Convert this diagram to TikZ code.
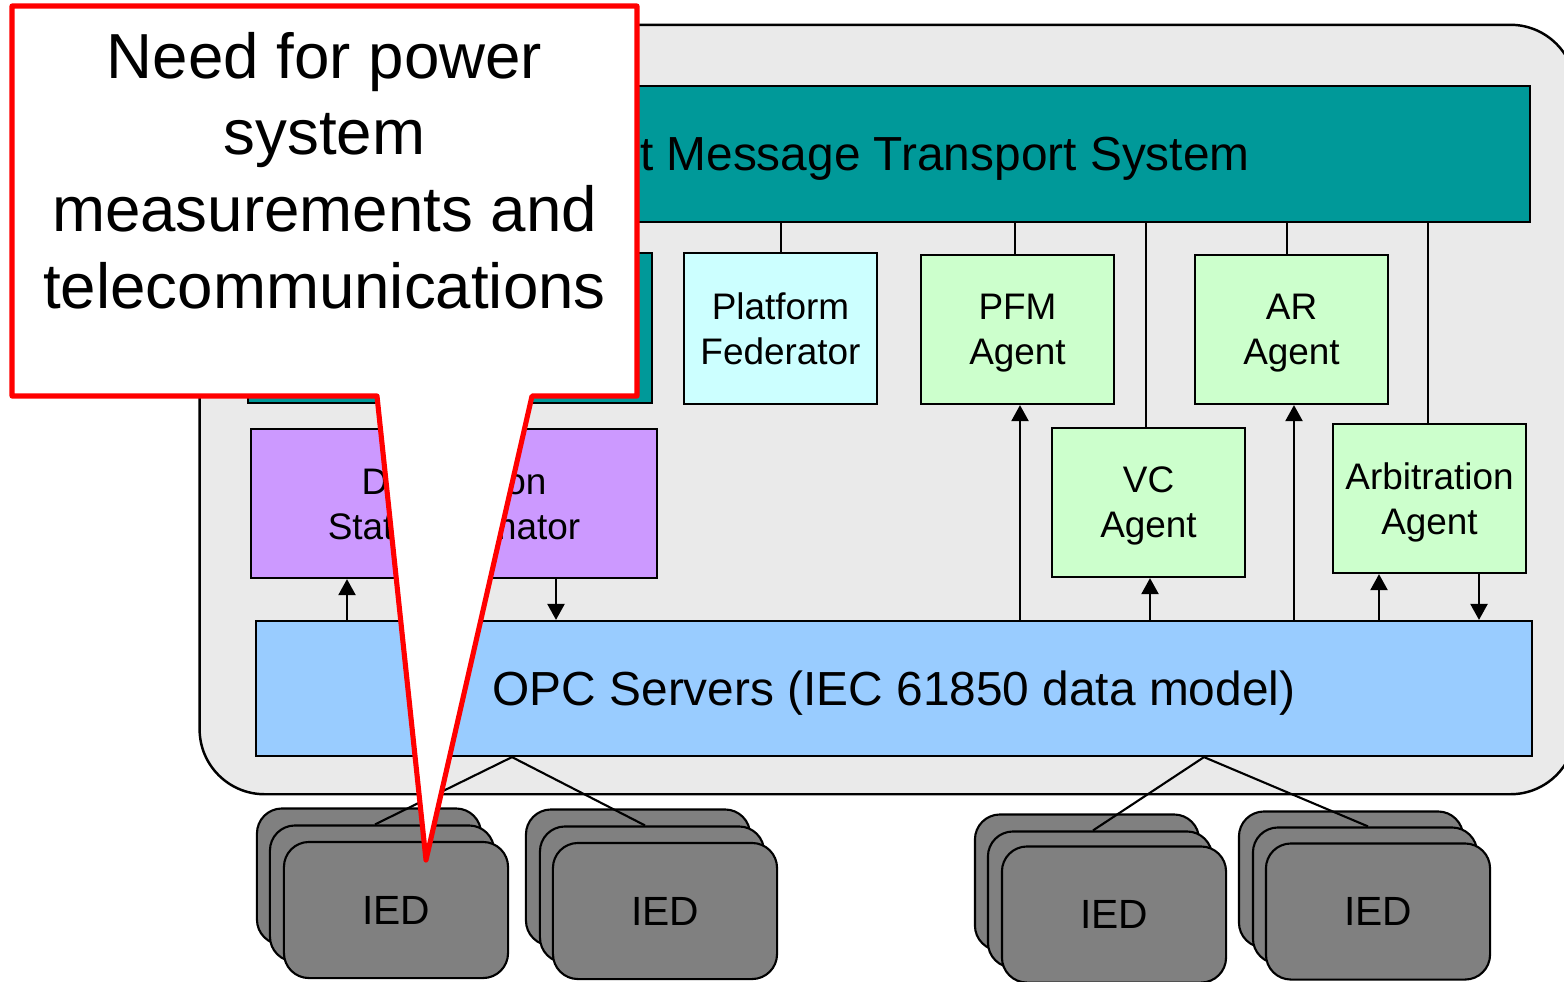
\documentclass[tikz,border=0pt]{standalone}
\usepackage{fontspec}
\setmainfont{Liberation Sans}
\usetikzlibrary{arrows.meta}
\definecolor{busteal}{HTML}{009999}
\definecolor{fedcyan}{HTML}{CCFFFF}
\definecolor{agentgreen}{HTML}{CCFFCC}
\definecolor{estpurple}{HTML}{CC99FF}
\definecolor{opcblue}{HTML}{99CCFF}
\definecolor{iedgray}{HTML}{808080}
\definecolor{framegray}{HTML}{EAEAEA}
\definecolor{calloutred}{HTML}{FF0000}

\begin{document}
\begin{tikzpicture}[x=0.01cm,y=-0.01cm,
  frame/.style={draw=black, line width=0.7pt, fill=framegray, rounded corners=0.65cm, inner sep=0pt},
  box/.style={draw=black, line width=0.6pt, inner sep=0pt, align=center, text depth=0pt,
              font=\fontsize{10.5}{12.8}\selectfont},
  big/.style={font=\fontsize{13.6}{16}\selectfont},
  sz/.style 2 args={minimum width=#1cm, minimum height=#2cm},
  ied/.style={draw=black, line width=0.6pt, fill=iedgray, rounded corners=0.25cm,
              minimum width=2.24cm, minimum height=1.36cm, inner sep=0pt, text depth=0pt,
              font=\fontsize{11.6}{14}\selectfont},
  link/.style={line width=0.6pt},
  arr/.style={line width=0.65pt, -{Triangle[width=0.17cm,length=0.16cm]}},
  callout/.style={draw=calloutred, line width=1.45pt, fill=white, line join=round}
]

\useasboundingbox (0,0) rectangle (1564,981);

% platform frame
\node[frame, sz={13.75}{7.69}] (frame) at (887.5,409.5) {};

% message transport bus
\node[box, big, fill=busteal, sz={12.82}{1.36}] (amts) at (889,154) {Agent Message Transport System};

% agents and services
\node[box, fill=busteal, sz={4.04}{1.50}] (dir) at (450,328) {};
\node[box, fill=fedcyan, sz={1.93}{1.51}] (pf) at (780.5,328.5) {Platform\\Federator};
\node[box, fill=agentgreen, sz={1.93}{1.49}] (pfm) at (1017.5,329.5) {PFM\\Agent};
\node[box, fill=agentgreen, sz={1.93}{1.49}] (ar) at (1291.5,329.5) {AR\\Agent};
\node[box, fill=agentgreen, sz={1.93}{1.49}] (vc) at (1148.5,502.5) {VC\\Agent};
\node[box, fill=agentgreen, sz={1.93}{1.49}] (arb) at (1429.5,498.5) {Arbitration\\Agent};
\node[box, fill=estpurple, sz={4.06}{1.49}] (dse) at (454,503.5) {Distribution\\State Estimator};

% OPC layer
\node[box, big, fill=opcblue, sz={12.76}{1.35}] (opc) at (894,688.5) {OPC Servers (IEC 61850 data model)};

% connector columns
\coordinate (c781) at (781,0);
\coordinate (c1015) at (1015,0);
\coordinate (c1146) at (1146,0);
\coordinate (c1287) at (1287,0);
\coordinate (c1428) at (1428,0);
\coordinate (a347) at (347,0);
\coordinate (a556) at (556,0);
\coordinate (a1020) at (1020,0);
\coordinate (a1150) at (1150,0);
\coordinate (a1294) at (1294,0);
\coordinate (a1379) at (1379,0);
\coordinate (a1479) at (1479,0);

% bus taps
\draw[link] (amts.south -| c781) -- (pf.north -| c781);
\draw[link] (amts.south -| c1015) -- (pfm.north -| c1015);
\draw[link] (amts.south -| c1146) -- (vc.north -| c1146);
\draw[link] (amts.south -| c1287) -- (ar.north -| c1287);
\draw[link] (amts.south -| c1428) -- (arb.north -| c1428);

% data flows between OPC and agents
\draw[arr] (opc.north -| a347) -- (dse.south -| a347);
\draw[arr] (dse.south -| a556) -- (opc.north -| a556);
\draw[arr] (opc.north -| a1020) -- (pfm.south -| a1020);
\draw[arr] (opc.north -| a1150) -- (vc.south -| a1150);
\draw[arr] (opc.north -| a1294) -- (ar.south -| a1294);
\draw[arr] (opc.north -| a1379) -- (arb.south -| a1379);
\draw[arr] (arb.south -| a1479) -- (opc.north -| a1479);

% IED stacks
\node[ied] (i1a) at (369,876.5) {};
\node[ied] (i1b) at (382,893.5) {};
\node[ied] (i1c) at (396,910) {IED};
\node[ied] (i2a) at (638,877.5) {};
\node[ied] (i2b) at (652,894.5) {};
\node[ied] (i2c) at (665,911) {IED};
\node[ied] (i3a) at (1087,882.5) {};
\node[ied] (i3b) at (1100,899.5) {};
\node[ied] (i3c) at (1114,914.5) {IED};
\node[ied] (i4a) at (1351,879.5) {};
\node[ied] (i4b) at (1365,895.5) {};
\node[ied] (i4c) at (1378,911.5) {IED};

% field connections
\coordinate (t512) at (512,0);
\coordinate (t1204) at (1204,0);
\coordinate (e375) at (375,0);
\coordinate (e645) at (645,0);
\coordinate (e1093) at (1093,0);
\coordinate (e1368) at (1368,0);
\draw[link] (i1b.north -| e375) -- (opc.south -| t512) -- (i2b.north -| e645);
\draw[link] (i3b.north -| e1093) -- (opc.south -| t1204) -- (i4b.north -| e1368);

% callout
\draw[callout] (12,6) -- (637,6) -- (637,396) -- (532,396) -- (426,860) -- (377,396) -- (12,396) -- cycle;
\node[align=center, text depth=0pt, inner sep=0pt, font=\fontsize{18.1}{21.8}\selectfont] (note) at (324.5,170)
  {Need for power\\system\\measurements and\\telecommunications};

\end{tikzpicture}
\end{document}
